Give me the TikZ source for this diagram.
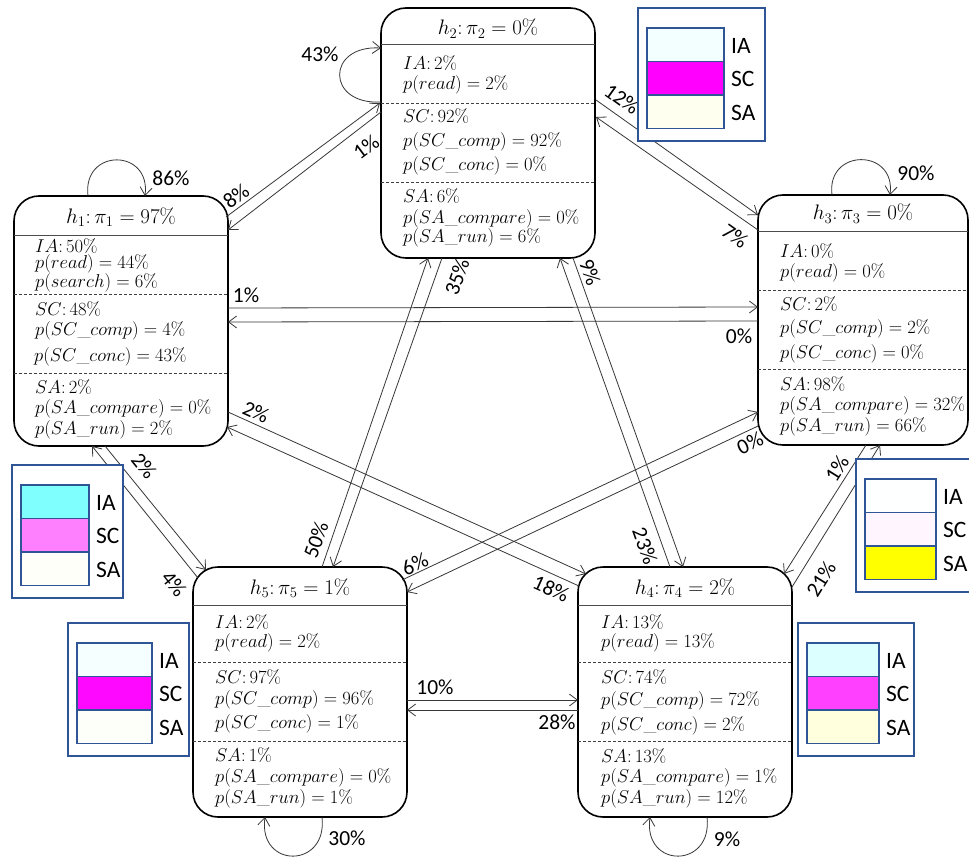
\RequirePackage{fix-cm}
\documentclass[tikz,border=0pt]{standalone}
\usepackage{fontspec}
\newfontfamily\lblfont{Carlito}
\usetikzlibrary{arrows.meta,calc}

\definecolor{legblue}{RGB}{47,85,151}
\definecolor{edgegray}{RGB}{55,55,55}
% legend swatch colours
\definecolor{ia1}{RGB}{128,255,255}\definecolor{sc1}{RGB}{255,128,255}\definecolor{sa1}{RGB}{253,255,248}
\definecolor{ia2}{RGB}{243,255,255}\definecolor{sc2}{RGB}{255,0,255}\definecolor{sa2}{RGB}{255,255,240}
\definecolor{ia3}{RGB}{254,255,255}\definecolor{sc3}{RGB}{255,245,255}\definecolor{sa3}{RGB}{255,255,0}
\definecolor{ia4}{RGB}{220,255,255}\definecolor{sc4}{RGB}{255,64,255}\definecolor{sa4}{RGB}{255,255,222}
\definecolor{ia5}{RGB}{245,255,255}\definecolor{sc5}{RGB}{255,8,255}\definecolor{sa5}{RGB}{253,255,249}

\tikzset{
  hstate/.style={draw=black, line width=1.6pt, rounded corners=25pt, fill=white,
    minimum width=214pt, minimum height=250pt, anchor=north west, outer sep=0pt, inner sep=0pt},
  ttl/.style={anchor=base, inner sep=0pt, font=\fontsize{21}{24}\selectfont},
  stl/.style={anchor=base west, inner sep=0pt, font=\fontsize{18.6}{21}\selectfont},
  hdr/.style={draw=black!70, line width=1pt},
  sepline/.style={draw=black!75, line width=0.8pt, dash pattern=on 3pt off 2pt},
  tr/.style={draw=edgegray, line width=0.8pt, -{Straight Barb[length=8pt,width=12pt]}},
  elab/.style={inner sep=0pt, font=\lblfont\fontsize{21.5}{24}\selectfont},
  legframe/.style={draw=legblue, line width=1.5pt, fill=white},
  swatch/.style={draw=legblue, line width=1.1pt},
  leglab/.style={anchor=west, inner sep=0pt, font=\lblfont\fontsize{23.5}{26}\selectfont},
}

% one text line inside a state box: name, box, offset from its top-left corner, text
\newcommand\stline[4]{\node[stl] (#1) at ($(#2.north west)+(#3)$) {#4};}
% header rule and the two dashed section rules of a state box
\newcommand\rules[4]{%
  \draw[hdr] ($(#1.north west)+(0,#2)$) -- ($(#1.north east)+(0,#2)$);
  \draw[sepline] ($(#1.north west)+(0,#3)$) -- ($(#1.north east)+(0,#3)$);
  \draw[sepline] ($(#1.north west)+(0,#4)$) -- ($(#1.north east)+(0,#4)$);}
% colour key: name, left, top, frame width, swatch width, IA, SC, SA colours
\newcommand\legendkey[8]{%
  \draw[legframe] (#2,#3) rectangle ++(#4,133);
  \draw[swatch,fill=#6] (#2+9,#3+20) rectangle ++(#5,33.5);
  \draw[swatch,fill=#7] (#2+9,#3+53.5) rectangle ++(#5,33.5);
  \draw[swatch,fill=#8] (#2+9,#3+87) rectangle ++(#5,33.5);
  \node[leglab] (#1-ia) at (#2+#5+16,#3+37.5) {IA};
  \node[leglab] (#1-sc) at (#2+#5+16,#3+71) {SC};
  \node[leglab] (#1-sa) at (#2+#5+16,#3+104.5) {SA};}

\begin{document}
\begin{tikzpicture}[x=1pt,y=-1pt]
\useasboundingbox (0,0) rectangle (969,861);
\fill[white] (0,0) rectangle (969,861);
\clip (0,0) rectangle (969,861);

% ---- state boxes ----
\node[hstate] (h1) at (14,196) {};
\node[hstate] (h2) at (381,8) {};
\node[hstate, minimum width=210pt] (h3) at (758,195) {};
\node[hstate] (h4) at (578,567) {};
\node[hstate] (h5) at (193,567) {};

% h1
\rules{h1}{40}{98}{177}
\node[ttl] (h1t) at ($(h1.north)+(0,27)$) {$h_1\colon \pi_1 = 97\%$};
\stline{h1a}{h1}{21,56}{$IA\colon 50\%$}
\stline{h1b}{h1}{21,72}{$p(read) = 44\%$}
\stline{h1c}{h1}{21,91}{$p(search) = 6\%$}
\stline{h1d}{h1}{21,119}{$SC\colon 48\%$}
\stline{h1e}{h1}{21,139}{$p(SC\_comp) = 4\%$}
\stline{h1f}{h1}{20,165}{$p(SC\_conc) = 43\%$}
\stline{h1g}{h1}{21,197}{$SA\colon 2\%$}
\stline{h1h}{h1}{21,217}{$p(SA\_compare) = 0\%$}
\stline{h1i}{h1}{21,238}{$p(SA\_run) = 2\%$}

% h2
\rules{h2}{37}{95}{174}
\node[ttl] (h2t) at ($(h2.north)+(0,27)$) {$h_2\colon \pi_2 = 0\%$};
\stline{h2a}{h2}{22,62}{$IA\colon 2\%$}
\stline{h2b}{h2}{22,82}{$p(read) = 2\%$}
\stline{h2d}{h2}{22,115}{$SC\colon 92\%$}
\stline{h2e}{h2}{22,139}{$p(SC\_comp) = 92\%$}
\stline{h2f}{h2}{22,163}{$p(SC\_conc) = 0\%$}
\stline{h2g}{h2}{22,195}{$SA\colon 6\%$}
\stline{h2h}{h2}{22,215}{$p(SA\_compare) = 0\%$}
\stline{h2i}{h2}{22,235}{$p(SA\_run) = 6\%$}

% h3
\rules{h3}{37}{95}{174}
\node[ttl] (h3t) at ($(h3.north)+(0,25)$) {$h_3\colon \pi_3 = 0\%$};
\stline{h3a}{h3}{22,62}{$IA\colon 0\%$}
\stline{h3b}{h3}{22,82}{$p(read) = 0\%$}
\stline{h3d}{h3}{22,115}{$SC\colon 2\%$}
\stline{h3e}{h3}{22,138}{$p(SC\_comp) = 2\%$}
\stline{h3f}{h3}{22,163}{$p(SC\_conc) = 0\%$}
\stline{h3g}{h3}{22,195}{$SA\colon 98\%$}
\stline{h3h}{h3}{22,215}{$p(SA\_compare) = 32\%$}
\stline{h3i}{h3}{22,236}{$p(SA\_run) = 66\%$}

% h4
\rules{h4}{38}{95}{174}
\node[ttl] (h4t) at ($(h4.north)+(0,27)$) {$h_4\colon \pi_4 = 2\%$};
\stline{h4a}{h4}{23,61}{$IA\colon 13\%$}
\stline{h4b}{h4}{23,80}{$p(read) = 13\%$}
\stline{h4d}{h4}{23,116}{$SC\colon 74\%$}
\stline{h4e}{h4}{23,138}{$p(SC\_comp) = 72\%$}
\stline{h4f}{h4}{23,163}{$p(SC\_conc) = 2\%$}
\stline{h4g}{h4}{23,195}{$SA\colon 13\%$}
\stline{h4h}{h4}{23,215}{$p(SA\_compare) = 1\%$}
\stline{h4i}{h4}{23,236}{$p(SA\_run) = 12\%$}

% h5
\rules{h5}{38}{95}{174}
\node[ttl] (h5t) at ($(h5.north)+(0,27)$) {$h_5\colon \pi_5 = 1\%$};
\stline{h5a}{h5}{22,61}{$IA\colon 2\%$}
\stline{h5b}{h5}{22,80}{$p(read) = 2\%$}
\stline{h5d}{h5}{22,116}{$SC\colon 97\%$}
\stline{h5e}{h5}{22,137}{$p(SC\_comp) = 96\%$}
\stline{h5f}{h5}{22,161}{$p(SC\_conc) = 1\%$}
\stline{h5g}{h5}{22,194}{$SA\colon 1\%$}
\stline{h5h}{h5}{22,215}{$p(SA\_compare) = 0\%$}
\stline{h5i}{h5}{22,236}{$p(SA\_run) = 1\%$}

% ---- self transitions ----
\draw[tr] ($(h1.north west)+(74,0)$) .. controls ($(h1.north west)+(68,-48)$) and ($(h1.north west)+(137,-48)$) .. ($(h1.north west)+(131,0)$);
\draw[tr] ($(h2.north west)+(0,94)$) .. controls ($(h2.north west)+(-55,97)$) and ($(h2.north west)+(-55,37)$) .. ($(h2.north west)+(0,40)$);
\draw[tr] ($(h3.north west)+(74,0)$) .. controls ($(h3.north west)+(68,-47)$) and ($(h3.north west)+(138,-47)$) .. ($(h3.north west)+(132,0)$);
\draw[tr] ($(h5.south west)+(129,0)$) .. controls ($(h5.south west)+(135,52)$) and ($(h5.south west)+(65,52)$) .. ($(h5.south west)+(72,0)$);
\draw[tr] ($(h4.south west)+(129,0)$) .. controls ($(h4.south west)+(135,52)$) and ($(h4.south west)+(65,52)$) .. ($(h4.south west)+(72,0)$);

\node[elab] (l11) at (171,178) {86\%};
\node[elab] (l22) at (320,54) {43\%};
\node[elab] (l33) at (916,173) {90\%};
\node[elab] (l55) at (347,838) {30\%};
\node[elab] (l44) at (727,839) {9\%};

% ---- transitions between states ----
% h1 <-> h2
\draw[tr] ($(h1.north east)+(-2,21)$) -- ($(h2.north west)+(-1,95)$);
\draw[tr] ($(h2.north west)+(0,104)$) -- ($(h1.north east)+(0,34)$);
\node[elab, rotate=36.7] (l12) at (236,196) {8\%};
\node[elab, rotate=36.7] (l21) at (366,147) {1\%};
% h2 <-> h3
\draw[tr] ($(h2.north east)+(1,92)$) -- ($(h3.north west)+(0,20)$);
\draw[tr] ($(h3.north west)+(0,35)$) -- ($(h2.north east)+(1,109)$);
\node[elab, rotate=-35.5] (l23) at (622,99) {12\%};
\node[elab, rotate=-35.5] (l32) at (735,236) {7\%};
% h1 <-> h3
\draw[tr] ($(h1.north east)+(0,112)$) -- ($(h3.north west)+(0,112)$);
\draw[tr] ($(h3.north west)+(0,126)$) -- ($(h1.north east)+(0,126)$);
\node[elab] (l13) at (246,295) {1\%};
\node[elab] (l31) at (739,336) {0\%};
% h2 <-> h5
\draw[tr] ($(h5.north west)+(129,0)$) -- ($(h2.south west)+(47,0)$);
\draw[tr] ($(h2.south west)+(61,0)$) -- ($(h5.north west)+(140,0)$);
\node[elab, rotate=70.6] (l25) at (457,277) {35\%};
\node[elab, rotate=70.6] (l52) at (316,540) {50\%};
% h2 <-> h4
\draw[tr] ($(h4.north west)+(92,0)$) -- ($(h2.south west)+(179,0)$);
\draw[tr] ($(h2.south west)+(192,0)$) -- ($(h4.north west)+(105,0)$);
\node[elab, rotate=-70.4] (l24) at (590,272) {9\%};
\node[elab, rotate=-70.4] (l42) at (645,546) {23\%};
% h1 <-> h5
\draw[tr] ($(h1.south west)+(91,0)$) -- ($(h5.north west)+(13,3)$);
\draw[tr] ($(h5.north west)+(5,11)$) -- ($(h1.south west)+(78,0)$);
\node[elab, rotate=-51] (l15) at (144,466) {2\%};
\node[elab, rotate=-51] (l51) at (174,584) {4\%};
% h1 <-> h4
\draw[tr] ($(h1.north east)+(0,216)$) -- ($(h4.north west)+(8,7)$);
\draw[tr] ($(h4.north west)+(1,19)$) -- ($(h1.north east)+(-1,231)$);
\node[elab, rotate=-24.4] (l14) at (256,412) {2\%};
\node[elab, rotate=-24.4] (l41) at (551,589) {18\%};
% h5 <-> h3
\draw[tr] ($(h5.north east)+(-5,13)$) -- ($(h3.north west)+(0,217)$);
\draw[tr] ($(h3.north west)+(0,231)$) -- ($(h5.north east)+(0,25)$);
\node[elab, rotate=25.3] (l53) at (415,564) {6\%};
\node[elab, rotate=25.3] (l35) at (750,443) {0\%};
% h4 <-> h3
\draw[tr] ($(h4.north east)+(0,20)$) -- ($(h3.south west)+(122,0)$);
\draw[tr] ($(h3.south west)+(108,0)$) -- ($(h4.north east)+(-8,7)$);
\node[elab, rotate=58] (l34) at (837,469) {1\%};
\node[elab, rotate=58] (l43) at (821,579) {21\%};
% h5 <-> h4
\draw[tr] ($(h5.north east)+(0,133)$) -- ($(h4.north west)+(0,133)$);
\draw[tr] ($(h4.north west)+(0,143)$) -- ($(h5.north east)+(0,143)$);
\node[elab] (l54) at (435,687) {10\%};
\node[elab] (l45) at (557,722) {28\%};

% ---- colour keys ----
\legendkey{k1}{12}{465}{111}{68}{ia1}{sc1}{sa1}
\legendkey{k2}{638}{8}{127}{77}{ia2}{sc2}{sa2}
\legendkey{k3}{856}{459}{125}{71}{ia3}{sc3}{sa3}
\legendkey{k4}{798}{623}{116}{72}{ia4}{sc4}{sa4}
\legendkey{k5}{68}{623}{121}{75}{ia5}{sc5}{sa5}
\end{tikzpicture}
\end{document}
